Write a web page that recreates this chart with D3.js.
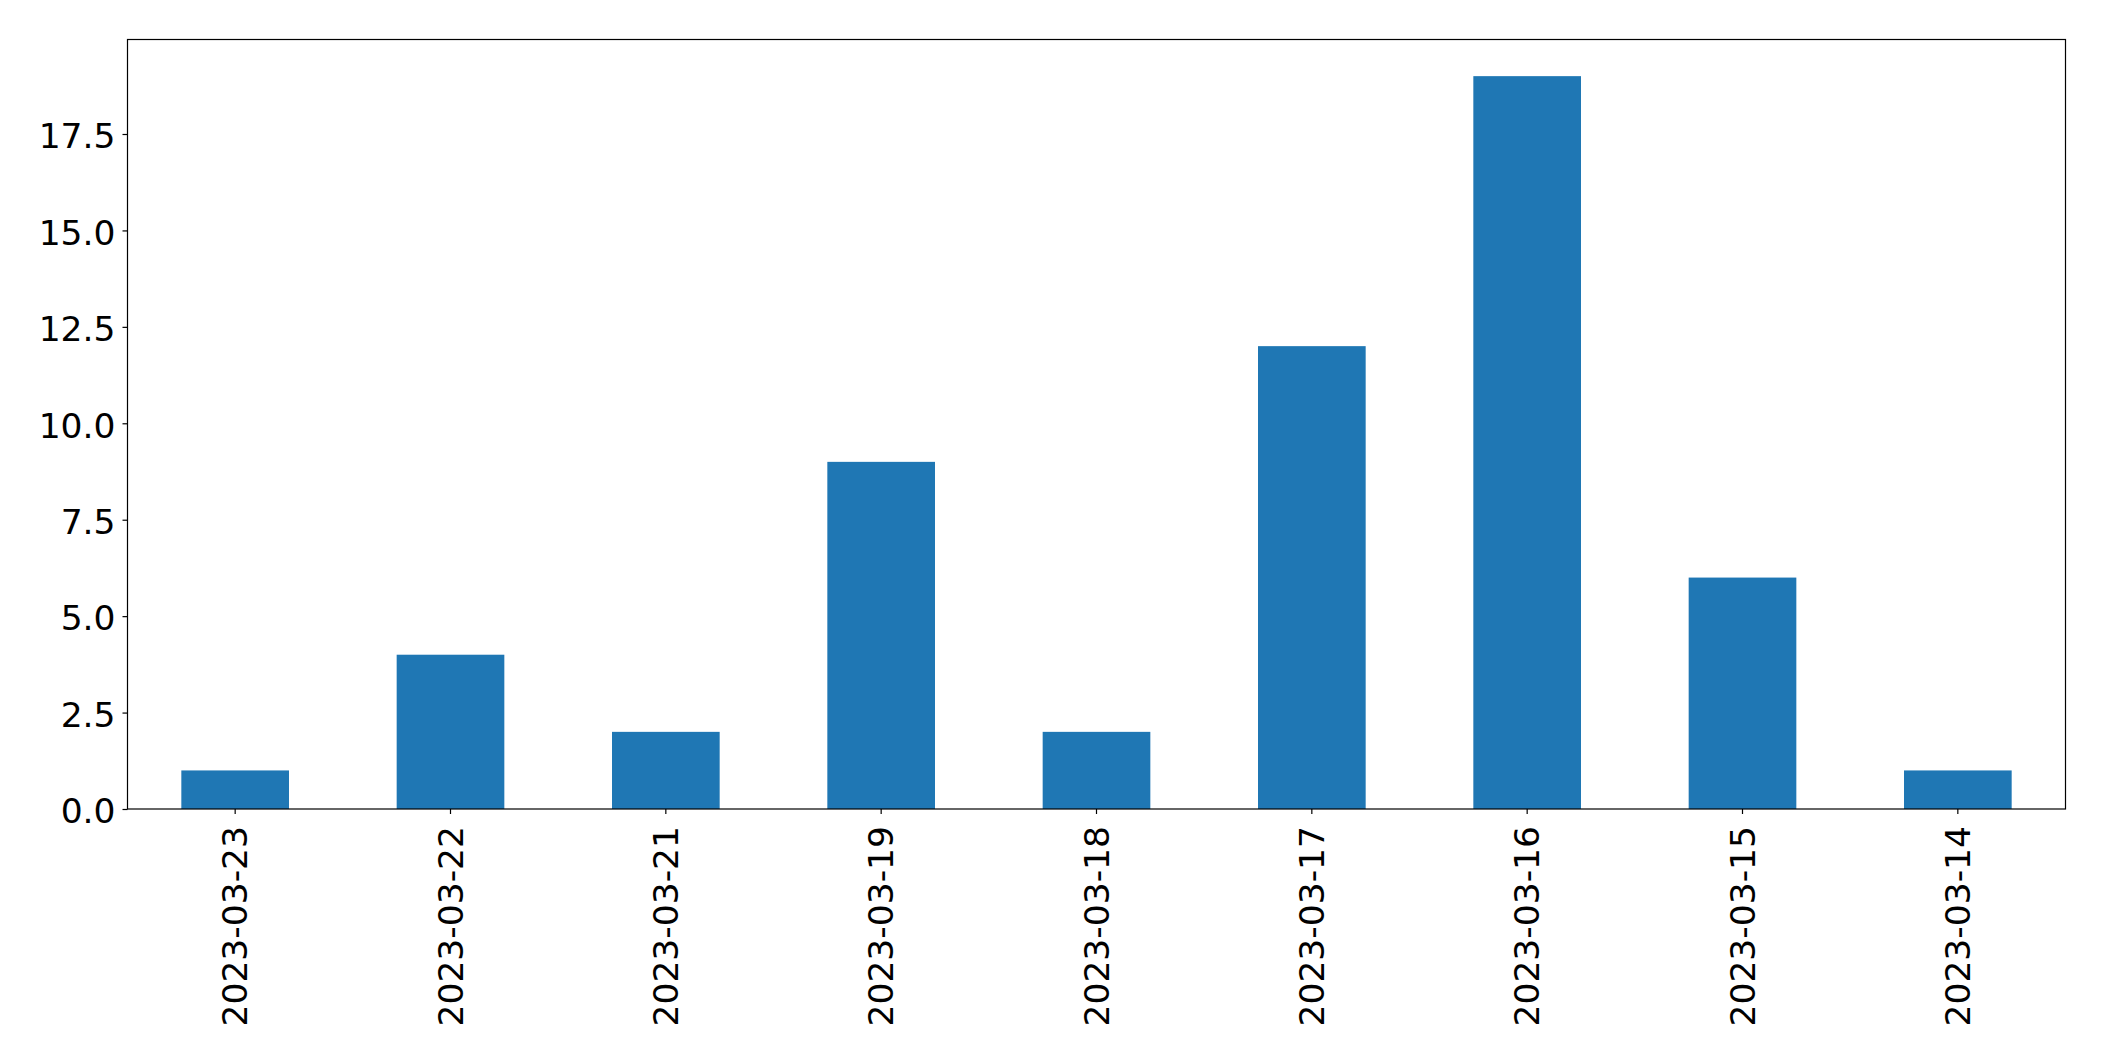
<!DOCTYPE html>
<html>
<head>
<meta charset="utf-8">
<script src="https://cdn.jsdelivr.net/npm/d3@7"></script>
<style>
  body { margin: 0; background: #fff; }
  text { font-family: "DejaVu Sans", sans-serif; }
</style>
</head>
<body>
<div id="chart"></div>
<script>
const dates = ["2023-03-23", "2023-03-22", "2023-03-21", "2023-03-19", "2023-03-18",
               "2023-03-17", "2023-03-16", "2023-03-15", "2023-03-14"];
const counts = [1, 4, 2, 9, 2, 12, 19, 6, 1];
const yTicks = [0, 2.5, 5, 7.5, 10, 12.5, 15, 17.5];

const width = 2104, height = 1061,
    margin = ({ top: 39.5, right: 38.5, bottom: 252, left: 127.5 });

const svg = d3.select("#chart")
    .append("svg")
    .attr("width", width)
    .attr("height", height);

const data = dates.map((d, i) => ({ date: d, n: counts[i] }));

let x = d3.scaleBand()
    .domain(dates)
    .range([margin.left, width - margin.right])
    .paddingInner(0.5)
    .paddingOuter(0.25);

let y = d3.scaleLinear()
    .domain([0, d3.max(counts) * 1.05])
    .range([height - margin.bottom, margin.top]);

// bars
svg.append("g")
  .selectAll("rect")
  .data(data)
  .join("rect")
    .attr("x", d => x(d.date))
    .attr("y", d => y(d.n))
    .attr("width", x.bandwidth())
    .attr("height", d => y(0) - y(d.n))
    .attr("fill", "#1f77b4");

// y axis
const yAxis = svg.append("g")
  .attr("transform", `translate(${margin.left},0)`)
  .call(d3.axisLeft(y).tickValues(yTicks).tickFormat(d3.format(".1f")).tickSize(5).tickPadding(7));
yAxis.select(".domain").remove();
yAxis.selectAll("line").attr("stroke", "#000").attr("stroke-width", 1.2);
yAxis.selectAll("text")
  .attr("font-size", 34.5)
  .attr("fill", "#000")
  .attr("font-family", "DejaVu Sans")
  .attr("dy", "0.4em");

// x axis
const xAxis = svg.append("g")
  .attr("transform", `translate(0,${height - margin.bottom})`)
  .call(d3.axisBottom(x).tickSize(5).tickPadding(0));
xAxis.select(".domain").remove();
xAxis.selectAll("line").attr("stroke", "#000").attr("stroke-width", 1.2);
xAxis.selectAll("text")
  .attr("font-size", 34.5)
  .attr("fill", "#000")
  .attr("font-family", "DejaVu Sans")
  .attr("text-anchor", "end")
  .attr("transform", "translate(0,17) rotate(-90)")
  .attr("x", 0)
  .attr("y", 0)
  .attr("dy", "0.35em");

// frame
svg.append("rect")
  .attr("x", margin.left)
  .attr("y", margin.top)
  .attr("width", width - margin.left - margin.right)
  .attr("height", height - margin.top - margin.bottom)
  .attr("fill", "none")
  .attr("stroke", "#000")
  .attr("stroke-width", 1.2);
</script>
</body>
</html>
